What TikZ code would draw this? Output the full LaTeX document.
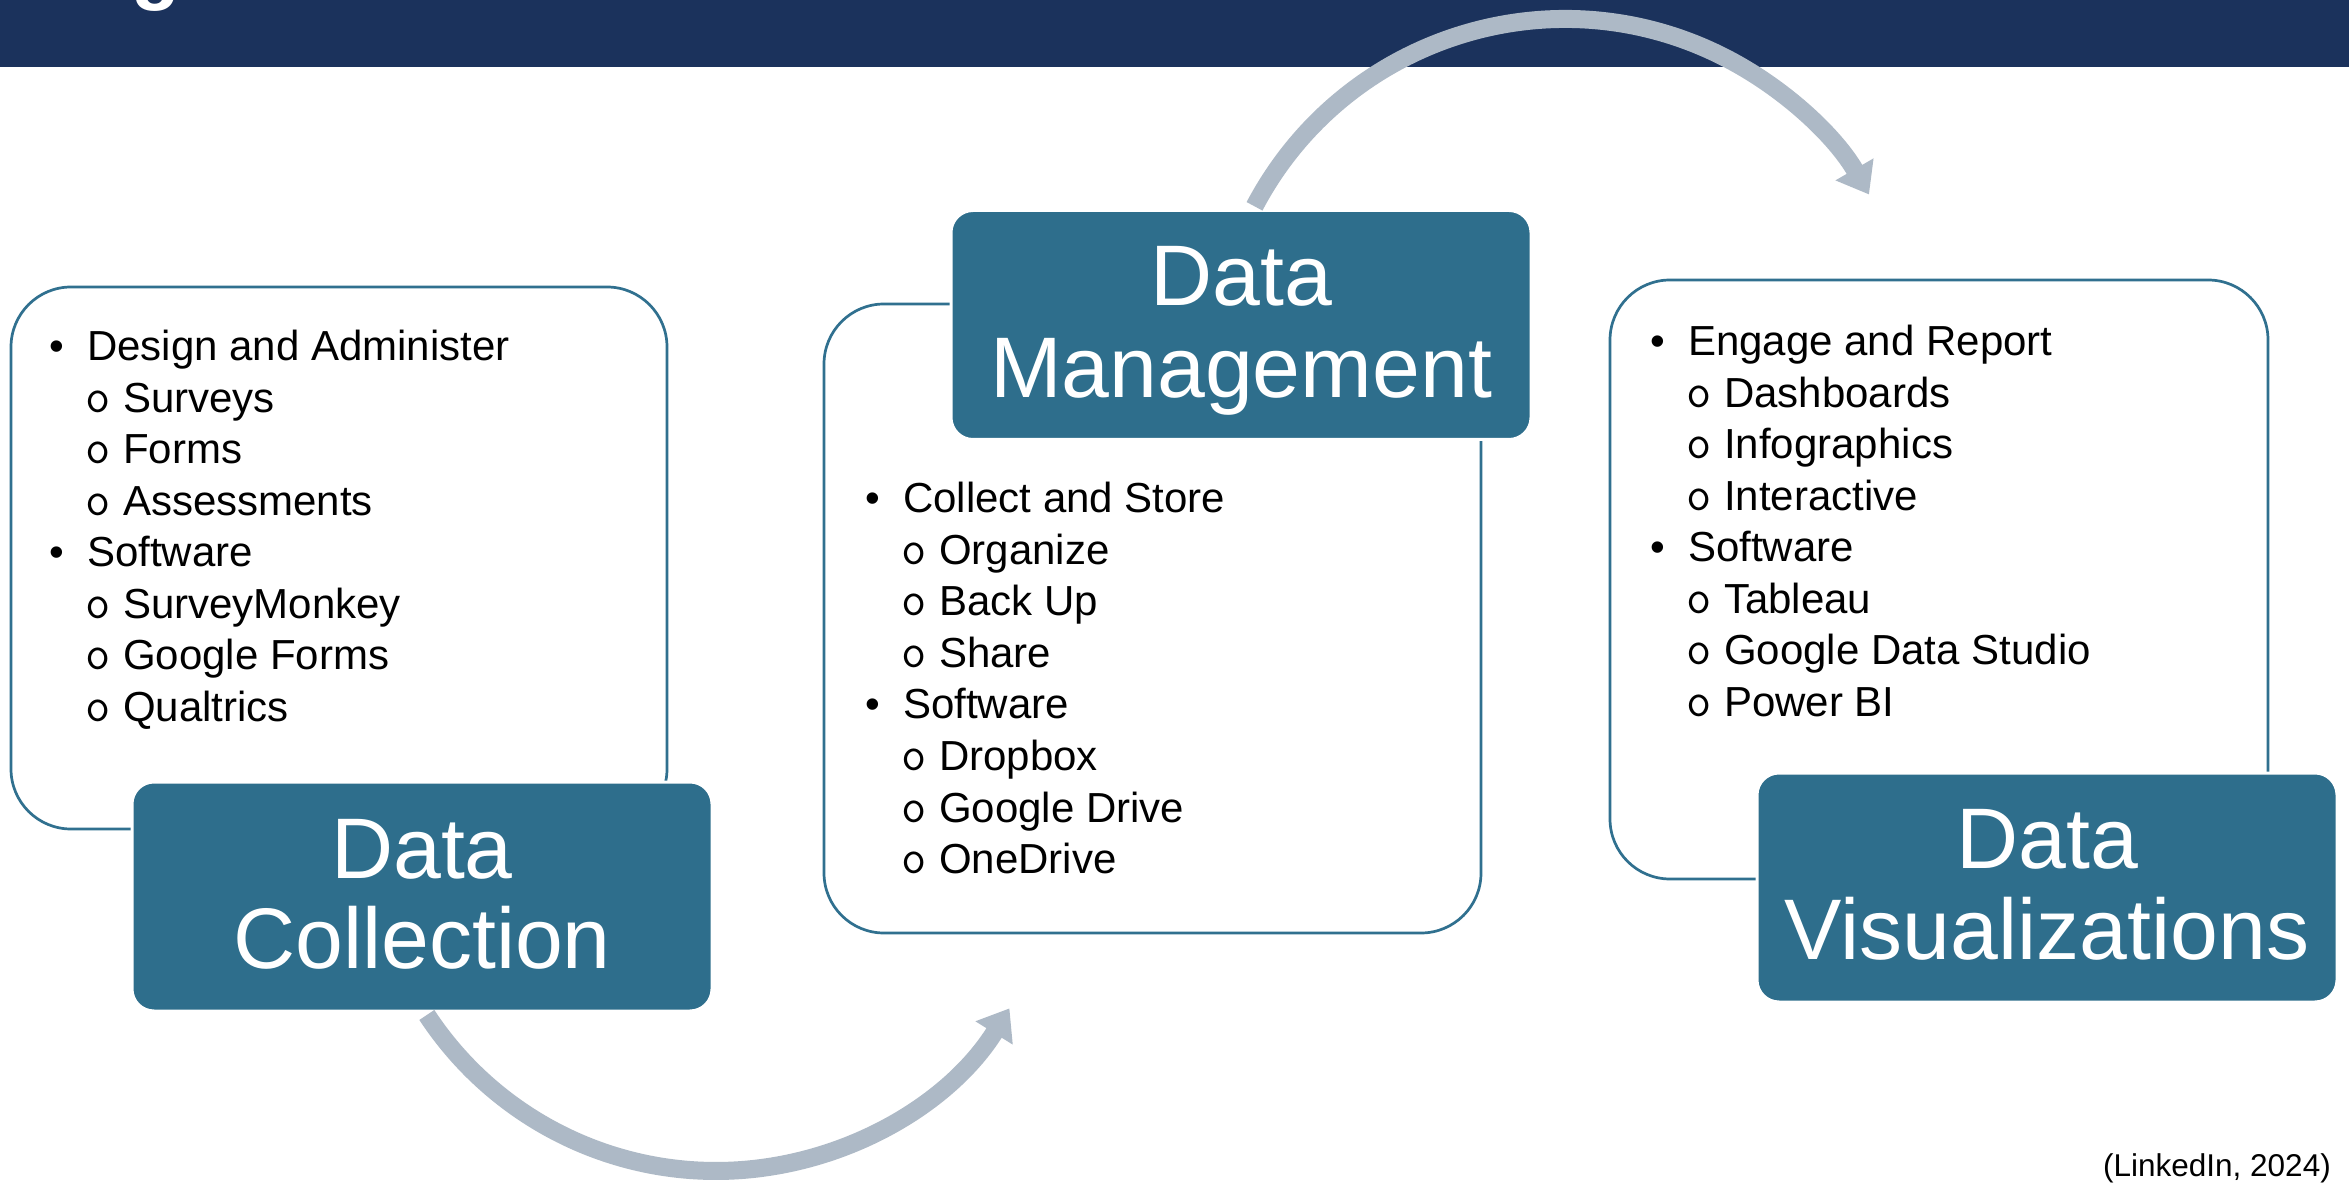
\documentclass[tikz,border=0pt]{standalone}
\usepackage{fontspec}
\setmainfont{Liberation Sans}
\usetikzlibrary{arrows.meta,calc}
\definecolor{navy}{HTML}{1B325C}
\definecolor{tealbox}{HTML}{2E6E8C}
\definecolor{tealline}{HTML}{30708F}
\definecolor{arrowgray}{HTML}{ADB9C6}
\tikzset{
  wbox/.style={rectangle, rounded corners=60pt, draw=tealline, line width=2.7pt, fill=white, inner sep=0pt},
  dbox/.style={rectangle, rounded corners=22pt, draw=white, line width=3pt, fill=tealbox, inner sep=0pt,
               minimum width=580pt, minimum height=229pt},
  item/.style={anchor=base west, inner sep=0pt, font=\fontsize{42}{50}\selectfont},
  bul/.style={anchor=base, inner sep=0pt, font=\fontsize{42}{50}\selectfont},
  subm/.style={anchor=base, inner sep=0pt, font=\fontsize{49}{56}\selectfont\ttfamily},
  ttl/.style={anchor=base, inner sep=0pt, text=white, font=\fontsize{86}{92}\selectfont},
  flow/.style={draw=arrowgray, line width=18pt, -{Triangle[length=29pt,width=42pt]}}
}
\newcommand\mklist[4]{%
  \foreach \kind/\txt [count=\i] in {#4} {
    \pgfmathsetmacro\yy{#3-51.5*(\i-1)}
    \if\kind b
      \node[bul] (#1m\i) at (#2-30,\yy) {•};
      \node[item] (#1t\i) at (#2,\yy) {\txt};
    \else
      \node[subm] (#1m\i) at (#2+11.5,\yy) {o};
      \node[item] (#1t\i) at (#2+36,\yy) {\txt};
    \fi
  }}
\begin{document}
\begin{tikzpicture}[x=1pt,y=1pt]
\useasboundingbox (0,0) rectangle (2349,1187);
\fill[white] (0,0) rectangle (2349,1187);
\fill[navy] (0,1120) rectangle (2349,1187);
\begin{scope}
  \clip (0,0) rectangle (2349,1187);
  \node[anchor=base, inner sep=0pt, text=white, font=\fontsize{80}{90}\selectfont\bfseries] (title) at (156,1192) {g};
\end{scope}

% Data Collection
\node[wbox, minimum width=656pt, minimum height=542pt] (wb1) at (339,629) {};
\mklist{a}{87}{826}{b/Design and Administer, s/Surveys, s/Forms, s/Assessments, b/Software, s/SurveyMonkey, s/Google Forms, s/Qualtrics}
\node[dbox] (db1) at (422,290.5) {};
\node[ttl] (dc1) at (422,309) {Data};
\node[ttl] (dc2) at (422,219) {Collection};

% Data Management
\node[wbox, minimum width=657pt, minimum height=629pt] (wb2) at (1152.5,568.5) {};
\mklist{m}{903}{674}{b/Collect and Store, s/Organize, s/Back Up, s/Share, b/Software, s/Dropbox, s/Google Drive, s/OneDrive}
\node[dbox] (db2) at (1241,862) {};
\node[ttl] (dm1) at (1241,881) {Data};
\node[ttl] (dm2) at (1241,789) {Management};

% Data Visualizations
\node[wbox, minimum width=658pt, minimum height=599pt] (wb3) at (1939,607.5) {};
\mklist{v}{1688}{831}{b/Engage and Report, s/Dashboards, s/Infographics, s/Interactive, b/Software, s/Tableau, s/Google Data Studio, s/Power BI}
\node[dbox] (db3) at (2047,299.5) {};
\node[ttl] (dv1) at (2047,319) {Data};
\node[ttl] (dv2) at (2047,228) {Visualizations};

% curved arrows
\coordinate (c1) at (1565,817);
\draw[flow] ($(c1)+(152.2:351)$) arc[start angle=152.2, end angle=30, radius=351pt];
\coordinate (c2) at (716,362);
\draw[flow] ($(c2)+(213.3:346)$) arc[start angle=213.3, end angle=328, radius=346pt];

\node[anchor=base east, inner sep=0pt, font=\fontsize{31.5}{36}\selectfont] (cite) at (2331,11) {(LinkedIn, 2024)};
\end{tikzpicture}
\end{document}
